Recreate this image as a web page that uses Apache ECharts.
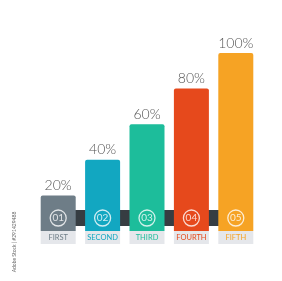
<!DOCTYPE html>
<html lang="en">

<head>
    <meta charset="UTF-8">
    <title>Steps chart</title>
    <script src="https://cdn.jsdelivr.net/npm/echarts@6.0.0/dist/echarts.min.js"></script>
    <style>
        html, body { margin: 0; padding: 0; background: #fff; }
    </style>
</head>

<body>
    <div id="main" style="width: 282px;height:281px;"></div>
    <script type="text/javascript">
        // chart data
        const categories = ['FIRST', 'SECOND', 'THIRD', 'FOURTH', 'FIFTH'];
        const values = [20, 40, 60, 80, 100];
        const stepNumbers = ['01', '02', '03', '04', '05'];
        const barColors = ['#6e7d87', '#12a7c1', '#1dbd9b', '#e6491c', '#f6a324'];

        const labelBoxDepth = -7.3;  // gray name box below the bars
        const bandLevel = 7.3;       // dark connector band / circles

        let myChart = echarts.init(document.getElementById('main'));

        let options = {
            animation: false,
            grid: { left: 36, right: 24, top: 53, bottom: 37 },
            xAxis: {
                type: 'category',
                data: categories,
                show: false
            },
            yAxis: {
                type: 'value',
                min: labelBoxDepth,
                max: 100,
                show: false
            },
            graphic: [{
                type: 'text',
                x: 14,
                y: 242,
                rotation: Math.PI / 2,
                style: {
                    text: 'Adobe Stock | #291429488',
                    fontSize: 5,
                    fontFamily: 'Lato',
                    fill: '#666',
                    align: 'center',
                    verticalAlign: 'middle'
                }
            }],
            series: [
                {
                    // dark band joining the bars
                    type: 'line',
                    z: 1,
                    symbol: 'none',
                    data: categories.map(() => bandLevel),
                    lineStyle: { color: '#363d42', width: 16, cap: 'butt' },
                    silent: true
                },
                {
                    name: 'value',
                    type: 'bar',
                    z: 2,
                    barWidth: 35,
                    data: values.map((v, i) => ({
                        value: v,
                        itemStyle: { color: barColors[i], borderRadius: [2, 2, 0, 0] }
                    })),
                    label: {
                        show: true,
                        position: 'top',
                        distance: 3,
                        formatter: '{c}%',
                        fontFamily: 'Lato',
                        fontWeight: 300,
                        fontSize: 14,
                        color: '#555'
                    }
                },
                {
                    // name boxes
                    type: 'bar',
                    z: 2,
                    barWidth: 35,
                    barGap: '-100%',
                    data: categories.map((c, i) => ({
                        value: labelBoxDepth,
                        label: { color: barColors[i] }
                    })),
                    itemStyle: { color: '#e5e7eb' },
                    label: {
                        show: true,
                        position: 'inside',
                        formatter: (p) => p.name,
                        fontFamily: 'Lato',
                        fontSize: 7.5
                    }
                },
                {
                    // numbered circles
                    type: 'scatter',
                    z: 3,
                    symbol: 'circle',
                    symbolSize: 16,
                    data: stepNumbers.map((n, i) => ({ value: [categories[i], bandLevel], num: n })),
                    itemStyle: { color: 'rgba(0,0,0,0)', borderColor: '#fff', borderWidth: 1.3 },
                    label: {
                        show: true,
                        position: 'inside',
                        formatter: (p) => stepNumbers[p.dataIndex],
                        fontFamily: 'Lato',
                        fontSize: 10,
                        color: '#fff'
                    }
                }
            ]
        };

        myChart.setOption(options);
    </script>
</body>

</html>
